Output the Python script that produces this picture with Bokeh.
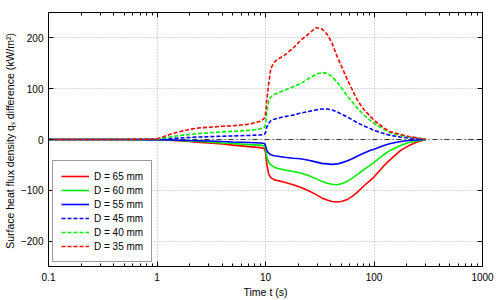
from bokeh.plotting import figure
from bokeh.models import (Range1d, LinearAxis, LogAxis, FixedTicker, NumeralTickFormatter,
                          CustomJSTickFormatter, Span, Legend, LegendItem, ColumnDataSource)
from bokeh.embed import file_html
from bokeh.resources import INLINE

# ---- data ----
t = [0.1, 0.5, 1, 1.4, 2, 2.5, 3, 4, 5, 7, 9, 9.8, 10, 10.3, 10.7, 11.2, 12, 13, 15, 18,
     21, 25, 29, 33, 37, 41, 46, 50, 57, 63, 70, 80, 93, 100, 123, 142, 175, 210, 250, 300]

d65 = [0, 0, -0.5, -2, -4, -6, -7, -9, -11, -14, -16, -18, -25, -50, -68, -75, -79, -81, -84, -89,
       -94, -101, -108, -115, -119, -122, -123, -122, -118, -112, -104, -92, -80, -74, -52, -39, -22, -12, -5, 0]
d60 = [0, 0, -0.3, -1.5, -3, -4, -5, -7, -8, -10, -11, -13, -18, -35, -45, -50, -54, -57, -60, -63,
       -66, -71, -77, -82, -86, -88, -89, -87, -82, -76, -69, -60, -50, -45, -30, -21, -12, -6, -3, 0]
d55 = [0, 0, -0.2, -1, -2, -2.5, -3, -4, -5, -6, -7, -8, -12, -22, -27, -30, -32, -33, -35, -37,
       -38, -41, -44, -47, -48, -49, -48, -46, -42, -38, -33, -27, -21, -19, -12, -8, -4, -2, -1, 0]
d45 = [0, 0, 0.3, 2, 4, 5, 5.5, 6.5, 7, 8, 9, 10, 14, 25, 32, 37, 40, 42, 45, 48,
       52, 55, 58, 60, 60, 58, 54, 50, 44, 39, 33, 27, 21, 18, 12, 8, 5, 3, 2, 0]
d40 = [0, 0, 0.5, 6, 10, 12, 13, 15, 16, 18, 21, 24, 30, 55, 75, 84, 88, 92, 97, 104,
       110, 120, 128, 132, 130, 124, 112, 102, 85, 74, 62, 49, 37, 32, 20, 13, 8, 5, 3, 0]
d35 = [0, 0, 1, 12, 20, 23, 24, 26, 27, 30, 36, 42, 50, 80, 110, 140, 152, 158, 166, 180,
       195, 208, 220, 218, 207, 190, 162, 145, 117, 98, 78, 60, 45, 38, 23, 15, 10, 6, 3, 0]

series_names = ["D = 65 mm", "D = 60 mm", "D = 55 mm", "D = 45 mm", "D = 40 mm", "D = 35 mm"]
series_vals = [d65, d60, d55, d45, d40, d35]
series_colors = ["#ff0000", "#00ee00", "#0000ff", "#0000ff", "#00ee00", "#ff0000"]
series_dash = ["solid", "solid", "solid", "4 2", "4 2", "4 2"]

x_ticks = [0.1, 1, 10, 100, 1000]
y_ticks = [-200, -100, 0, 100, 200]

FONT = "Liberation Sans"

p = figure(width=498, height=300, x_axis_type="log",
           x_range=Range1d(0.1, 1000), y_range=Range1d(-250, 250),
           output_backend="svg", toolbar_location=None,
           min_border_left=48, min_border_right=16, min_border_top=12, min_border_bottom=33)
p.outline_line_color = "black"
p.outline_line_width = 1
p.background_fill_color = "white"
p.border_fill_color = "white"

minor = [m * 10 ** e for e in range(-1, 3) for m in range(2, 10)]

src = ColumnDataSource(dict(t=t, **{f"s{i}": v for i, v in enumerate(series_vals)}))

renderers = []
for i, (nm, c, dsh) in enumerate(zip(series_names, series_colors, series_dash)):
    r = p.line("t", f"s{i}", source=src, line_color=c, line_width=1.6, line_dash=dsh)
    renderers.append(r)

zero = Span(location=0, dimension="width", line_color="#333333", line_width=1,
            line_dash="5 3 1 3", level="underlay")
p.add_layout(zero)


def style_axis(ax, ticks, minor_ticks, labels=True):
    ax.ticker = FixedTicker(ticks=ticks, minor_ticks=minor_ticks)
    ax.axis_line_color = "black"
    ax.major_tick_in = 5
    ax.major_tick_out = 0
    ax.minor_tick_in = 3
    ax.minor_tick_out = 0
    ax.major_tick_line_color = "black"
    ax.minor_tick_line_color = "black" if minor_ticks else None
    ax.major_label_text_font = FONT
    ax.major_label_text_font_size = "10px"
    ax.major_label_text_color = "black"
    ax.axis_label_text_font = FONT
    ax.axis_label_text_font_size = "10.5px"
    ax.axis_label_text_font_style = "normal"
    ax.axis_label_text_color = "black"
    if not labels:
        ax.formatter = CustomJSTickFormatter(code="return ''")
        ax.major_label_text_color = None
        ax.major_label_standoff = 0


xa = p.xaxis[0]
style_axis(xa, x_ticks, minor)
xa.formatter = NumeralTickFormatter(format="0.[0]")
xa.axis_label = "Time t (s)"
xa.major_label_standoff = 6
xa.axis_label_standoff = 2

ya = p.yaxis[0]
style_axis(ya, y_ticks, [])
ya.axis_label = "Surface heat flux density q\u209b difference  (kW/m\u00b2)"
ya.major_label_standoff = 5
ya.axis_label_standoff = 2

top = LogAxis()
style_axis(top, x_ticks, minor, labels=False)
p.add_layout(top, "above")
right = LinearAxis()
style_axis(right, y_ticks, [], labels=False)
p.add_layout(right, "right")

for g in (p.xgrid[0], p.ygrid[0]):
    g.grid_line_color = "#b0b0b0"
    g.grid_line_dash = "1 2"
    g.grid_line_width = 1
p.xgrid[0].ticker = FixedTicker(ticks=x_ticks)
p.ygrid[0].ticker = FixedTicker(ticks=y_ticks)

legend = Legend(items=[LegendItem(label=n, renderers=[r]) for n, r in zip(series_names, renderers)],
                location="bottom_left")
legend.margin = 4
legend.padding = 8
legend.spacing = 0
legend.label_height = 14
legend.glyph_height = 14
legend.glyph_width = 28
legend.label_text_font = FONT
legend.label_text_font_size = "10px"
legend.label_text_color = "black"
legend.border_line_color = "#333333"
legend.border_line_width = 1
legend.background_fill_alpha = 1.0
legend.background_fill_color = "white"
p.add_layout(legend)

open("out.html", "w").write(file_html(p, INLINE))
